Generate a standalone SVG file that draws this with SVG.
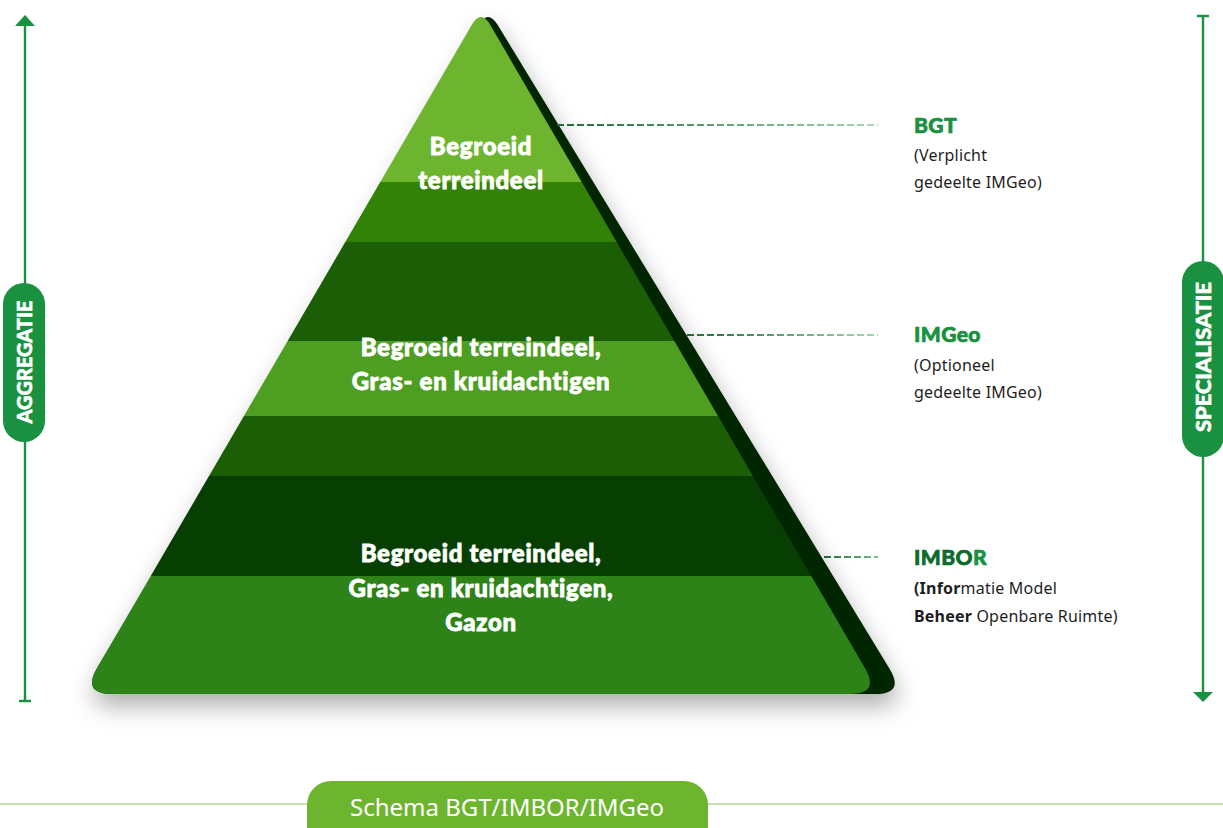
<svg xmlns="http://www.w3.org/2000/svg" width="1223" height="828" viewBox="0 0 1223 828">
<defs>
<style>
.ax{stroke:#1a9140;stroke-width:2.4;fill:none}
.axf{fill:#1a9140}
.pilltxt{font-family:Lato,"Liberation Sans",sans-serif;font-weight:900;font-size:21px;fill:#fff;stroke:#fff;stroke-width:0.6px;text-anchor:middle}
.ptxt{font-family:Lato,"Liberation Sans",sans-serif;font-weight:900;font-size:24px;fill:#fff;stroke:#fff;stroke-width:0.8px;letter-spacing:0.7px;text-anchor:middle}
.ttl{font-family:Lato,"Liberation Sans",sans-serif;font-weight:900;font-size:21px;fill:#1a9140;stroke:#1a9140;stroke-width:0.7px;letter-spacing:0.4px}
.body{font-family:"Noto Sans","Liberation Sans",sans-serif;font-size:16px;fill:#1e1e1e;letter-spacing:0.2px}
.b{font-weight:bold}
.dash{stroke-width:2;stroke-dasharray:7 3;fill:none}
</style>
<filter id="sh" x="-20%" y="-20%" width="140%" height="150%">
<feDropShadow dx="2" dy="12" stdDeviation="12" flood-color="#000" flood-opacity="0.32"/>
</filter>
<clipPath id="front">
<path d="M471.7,25 Q481,9 490.3,25 L864.9,668.1 Q880,694 850,694 L112,694 Q82,694 97.1,668.1 Z"/>
</clipPath>
<linearGradient id="g1" gradientUnits="userSpaceOnUse" x1="557" y1="0" x2="878" y2="0">
<stop offset="0" stop-color="#1a6b36"/><stop offset="1" stop-color="#a9d6b4"/>
</linearGradient>
<linearGradient id="g2" gradientUnits="userSpaceOnUse" x1="687" y1="0" x2="878" y2="0">
<stop offset="0" stop-color="#1a6b36"/><stop offset="1" stop-color="#a9d6b4"/>
</linearGradient>
<linearGradient id="g3" gradientUnits="userSpaceOnUse" x1="824" y1="0" x2="878" y2="0">
<stop offset="0" stop-color="#1a6b36"/><stop offset="1" stop-color="#7cc090"/>
</linearGradient>
</defs>
<rect width="1223" height="828" fill="#fff"/>

<g id="axis-left">
<line class="ax" x1="25" y1="24" x2="25" y2="701"/>
<line class="ax" x1="19" y1="701" x2="31" y2="701"/>
<polygon class="axf" points="25,15 35,26 15,26"/>
<rect class="axf" x="3" y="283" width="42" height="159" rx="21"/>
<text class="pilltxt" transform="translate(32,362) rotate(-90)" textLength="123" lengthAdjust="spacingAndGlyphs">AGGREGATIE</text>
</g>

<g id="axis-right">
<line class="ax" x1="1203" y1="16" x2="1203" y2="693"/>
<line class="ax" x1="1197" y1="16" x2="1209" y2="16"/>
<polygon class="axf" points="1193,692 1213,692 1203,702"/>
<rect class="axf" x="1182" y="261" width="42" height="196" rx="21"/>
<text class="pilltxt" transform="translate(1211,357) rotate(-90)" textLength="150" lengthAdjust="spacingAndGlyphs">SPECIALISATIE</text>
</g>

<g id="pyramid">
<path filter="url(#sh)" fill="#022602" d="M478.6,24.9 Q488,9 497.6,24.8 L889.4,668.4 Q905,694 875,694 L112,694 Q82,694 97.1,668.1 Z"/>
<g clip-path="url(#front)">
<rect x="60" y="0" width="840" height="182" fill="#6db52e"/>
<rect x="60" y="182" width="840" height="60" fill="#338208"/>
<rect x="60" y="242" width="840" height="99" fill="#1b5e05"/>
<rect x="60" y="341" width="840" height="75" fill="#4e9e22"/>
<rect x="60" y="416" width="840" height="60" fill="#1c5e06"/>
<rect x="60" y="476" width="840" height="100" fill="#073f02"/>
<rect x="60" y="576" width="840" height="120" fill="#2d8318"/>
</g>
</g>

<g id="node-top">
<text class="ptxt" x="481" y="155">Begroeid</text>
<text class="ptxt" x="481" y="189">terreindeel</text>
</g>
<g id="node-middle">
<text class="ptxt" x="481" y="356">Begroeid terreindeel,</text>
<text class="ptxt" x="481" y="390">Gras- en kruidachtigen</text>
</g>
<g id="node-bottom">
<text class="ptxt" x="481" y="562">Begroeid terreindeel,</text>
<text class="ptxt" x="481" y="597">Gras- en kruidachtigen,</text>
<text class="ptxt" x="481" y="631">Gazon</text>
</g>

<g id="connectors">
<line class="dash" x1="557" y1="125" x2="878" y2="125" stroke="url(#g1)"/>
<line class="dash" x1="687" y1="335" x2="878" y2="335" stroke="url(#g2)"/>
<line class="dash" x1="824" y1="557" x2="878" y2="557" stroke="url(#g3)"/>
</g>

<g id="label-bgt">
<text class="ttl" x="914" y="133">BGT</text>
<text class="body" x="914" y="161">(Verplicht</text>
<text class="body" x="914" y="188">gedeelte IMGeo)</text>
</g>
<g id="label-imgeo">
<text class="ttl" x="914" y="342">IMGeo</text>
<text class="body" x="914" y="371">(Optioneel</text>
<text class="body" x="914" y="398">gedeelte IMGeo)</text>
</g>
<g id="label-imbor">
<text class="ttl" x="914" y="565"><tspan fill="#0d6b2b" stroke="#0d6b2b">IMBO</tspan>R</text>
<text class="body" x="914" y="594"><tspan class="b">(Infor</tspan>matie Model</text>
<text class="body" x="914" y="622"><tspan class="b">Beheer</tspan> Openbare Ruimte)</text>
</g>

<g id="title">
<line x1="0" y1="804" x2="1223" y2="804" stroke="#c9e1b0" stroke-width="2"/>
<rect x="307" y="781" width="401" height="80" rx="24" fill="#6db52e"/>
<text x="507" y="816" font-family="'Noto Sans','Liberation Sans',sans-serif" font-size="24" fill="#fff" text-anchor="middle">Schema BGT/IMBOR/IMGeo</text>
</g>
</svg>
